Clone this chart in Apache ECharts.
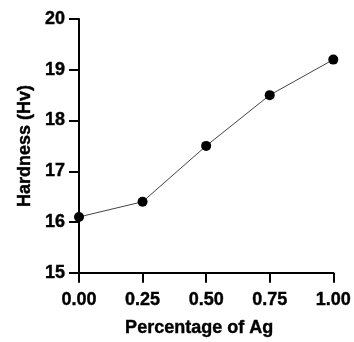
<!DOCTYPE html>
<html>
<head>
<meta charset="utf-8">
<script src="https://cdn.jsdelivr.net/npm/echarts@6/dist/echarts.min.js"></script>
<style>
  html, body { margin: 0; padding: 0; background: #fff; }
  #chart { width: 354px; height: 342px; }
</style>
</head>
<body>
<div id="chart"></div>
<script>
const agPercent = [0, 0.25, 0.5, 0.75, 1.0];
const hardness = [16.1, 16.4, 17.5, 18.5, 19.2];

const FONT = '"Liberation Sans", Arial, sans-serif';

// slight outline makes the bold text closer to the heavier original
const axisText = {
  color: "#000",
  fontFamily: FONT,
  fontWeight: "bold",
  fontSize: 18,
  textBorderColor: "#000",
  textBorderWidth: 0.4,
};

const tickStyle = { show: true, length: 10, lineStyle: { color: "#000", width: 2 } };

// styling axisLine.lineStyle hides the ticks in v6, so the thick black
// axis line comes from a second, bare axis laid over the first one
const lineOnly = {
  axisLine: { show: true, onZero: false, lineStyle: { color: "#000", width: 2 } },
  axisTick: { show: false },
  axisLabel: { show: false },
  splitLine: { show: false },
};

const chart = echarts.init(document.getElementById("chart"));

chart.setOption({
  backgroundColor: "#fff",
  animation: false,
  grid: { left: 79, right: 19, top: 19, bottom: 68 },
  xAxis: [
    {
      type: "value",
      position: "bottom",
      min: 0,
      max: 1,
      interval: 0.25,
      name: "Percentage of Ag",
      nameLocation: "middle",
      nameGap: 46,
      nameTextStyle: { ...axisText, padding: [0, 14, 0, 0] },
      axisLine: { show: true, onZero: false },
      axisTick: tickStyle,
      axisLabel: {
        ...axisText,
        margin: 18,
        formatter: (v) => v.toFixed(2),
      },
      splitLine: { show: false },
    },
    { type: "value", position: "bottom", min: 0, max: 1, interval: 0.25, ...lineOnly },
  ],
  yAxis: [
    {
      type: "value",
      position: "left",
      min: 15,
      max: 20,
      interval: 1,
      name: "Hardness (Hv)",
      nameLocation: "middle",
      nameGap: 45,
      nameTextStyle: axisText,
      axisLine: { show: true, onZero: false },
      axisTick: tickStyle,
      axisLabel: { ...axisText, margin: 14 },
      splitLine: { show: false },
    },
    { type: "value", position: "left", min: 15, max: 20, interval: 1, ...lineOnly },
  ],
  series: [
    {
      type: "line",
      xAxisIndex: 0,
      yAxisIndex: 0,
      data: agPercent.map((x, i) => [x, hardness[i]]),
      symbol: "circle",
      symbolSize: 10,
      itemStyle: { color: "#000" },
      lineStyle: { color: "#444", width: 1 },
      z: 3,
    },
  ],
});
</script>
</body>
</html>
